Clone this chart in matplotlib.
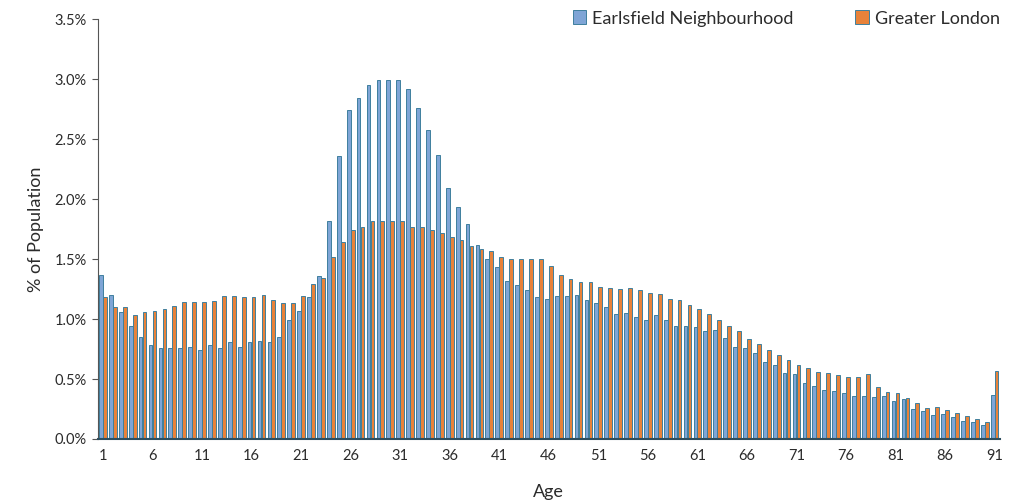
import numpy as np
import matplotlib
matplotlib.use('Agg')
import matplotlib.pyplot as plt
from matplotlib.ticker import FuncFormatter

plt.rcParams['font.family'] = ['Lato', 'DejaVu Sans']

ages = np.arange(1, 92)

# % of population by single year of age
earlsfield = [
    1.37, 1.20, 1.06, 0.94, 0.85, 0.78, 0.76, 0.76, 0.76, 0.77,
    0.74, 0.78, 0.76, 0.81, 0.77, 0.81, 0.82, 0.81, 0.85, 0.99,
    1.07, 1.18, 1.36, 1.82, 2.36, 2.74, 2.84, 2.95, 2.99, 2.99,
    2.99, 2.92, 2.76, 2.58, 2.37, 2.09, 1.93, 1.79, 1.62, 1.50,
    1.43, 1.32, 1.28, 1.24, 1.18, 1.17, 1.19, 1.19, 1.20, 1.16,
    1.13, 1.10, 1.04, 1.05, 1.02, 0.99, 1.03, 0.99, 0.94, 0.94,
    0.93, 0.90, 0.91, 0.84, 0.77, 0.76, 0.72, 0.64, 0.62, 0.55,
    0.54, 0.47, 0.44, 0.41, 0.40, 0.38, 0.36, 0.36, 0.35, 0.36,
    0.32, 0.33, 0.25, 0.23, 0.20, 0.21, 0.18, 0.15, 0.14, 0.12,
    0.37,
]
london = [
    1.18, 1.10, 1.10, 1.03, 1.06, 1.07, 1.08, 1.11, 1.14, 1.14,
    1.14, 1.15, 1.19, 1.19, 1.18, 1.18, 1.20, 1.16, 1.13, 1.13,
    1.19, 1.29, 1.34, 1.52, 1.64, 1.74, 1.77, 1.82, 1.82, 1.82,
    1.82, 1.77, 1.77, 1.74, 1.72, 1.68, 1.66, 1.61, 1.58, 1.57,
    1.52, 1.50, 1.50, 1.50, 1.50, 1.44, 1.37, 1.33, 1.31, 1.31,
    1.27, 1.26, 1.25, 1.26, 1.24, 1.22, 1.21, 1.17, 1.16, 1.12,
    1.08, 1.04, 0.99, 0.94, 0.90, 0.83, 0.79, 0.74, 0.70, 0.66,
    0.62, 0.59, 0.56, 0.55, 0.53, 0.52, 0.52, 0.54, 0.43, 0.39,
    0.38, 0.34, 0.30, 0.26, 0.27, 0.24, 0.22, 0.19, 0.17, 0.14,
    0.57,
]
series_names = ['Earlsfield Neighbourhood', 'Greater London']

blue = '#7fa5d6'
orange = '#e8823a'
edge = '#3f7f9e'
text_col = '#2b2b2b'

fig = plt.figure(figsize=(10.21, 5.04), dpi=100)
ax = fig.add_axes([0.096, 0.129, 0.883, 0.833])

w = 0.38
ax.bar(ages - 0.2, np.array(earlsfield) / 100, width=w, color=blue,
       edgecolor=edge, linewidth=0.7, label=series_names[0])
ax.bar(ages + 0.2, np.array(london) / 100, width=w, color=orange,
       edgecolor=edge, linewidth=0.7, label=series_names[1])

ax.set_xlim(0.5, 91.5)
ax.set_ylim(0, 0.035)
ax.set_yticks(np.arange(0, 0.0351, 0.005))
ax.yaxis.set_major_formatter(FuncFormatter(lambda v, p: f'{v*100:.1f}%'))
ax.set_xticks(np.arange(1, 92, 5))

for s in ['top', 'right']:
    ax.spines[s].set_visible(False)
ax.spines['left'].set_color('#555555')
ax.spines['left'].set_linewidth(0.8)
ax.spines['bottom'].set_color('#2f4f5f')
ax.spines['bottom'].set_linewidth(1.5)

ax.tick_params(axis='y', length=4, width=0.8, color='#555555',
               labelsize=10.5, labelcolor=text_col, pad=4)
ax.tick_params(axis='x', length=0, labelsize=10.5, labelcolor=text_col, pad=7)

ax.set_ylabel('% of Population', fontsize=13, color=text_col, labelpad=8)
ax.set_xlabel('Age', fontsize=13, color=text_col, labelpad=15)

leg = ax.legend(ncol=2, loc='upper right', bbox_to_anchor=(1000 / 1021, 1 - 11 / 504),
                bbox_transform=fig.transFigure, borderaxespad=0, borderpad=0,
                frameon=False, fontsize=13, handlelength=0.75,
                handleheight=0.75, handletextpad=0.35, columnspacing=3.4)
for t in leg.get_texts():
    t.set_color(text_col)
for h in leg.legend_handles:
    h.set_width(10)
    h.set_height(10)

fig.savefig('out.png', dpi=100)
